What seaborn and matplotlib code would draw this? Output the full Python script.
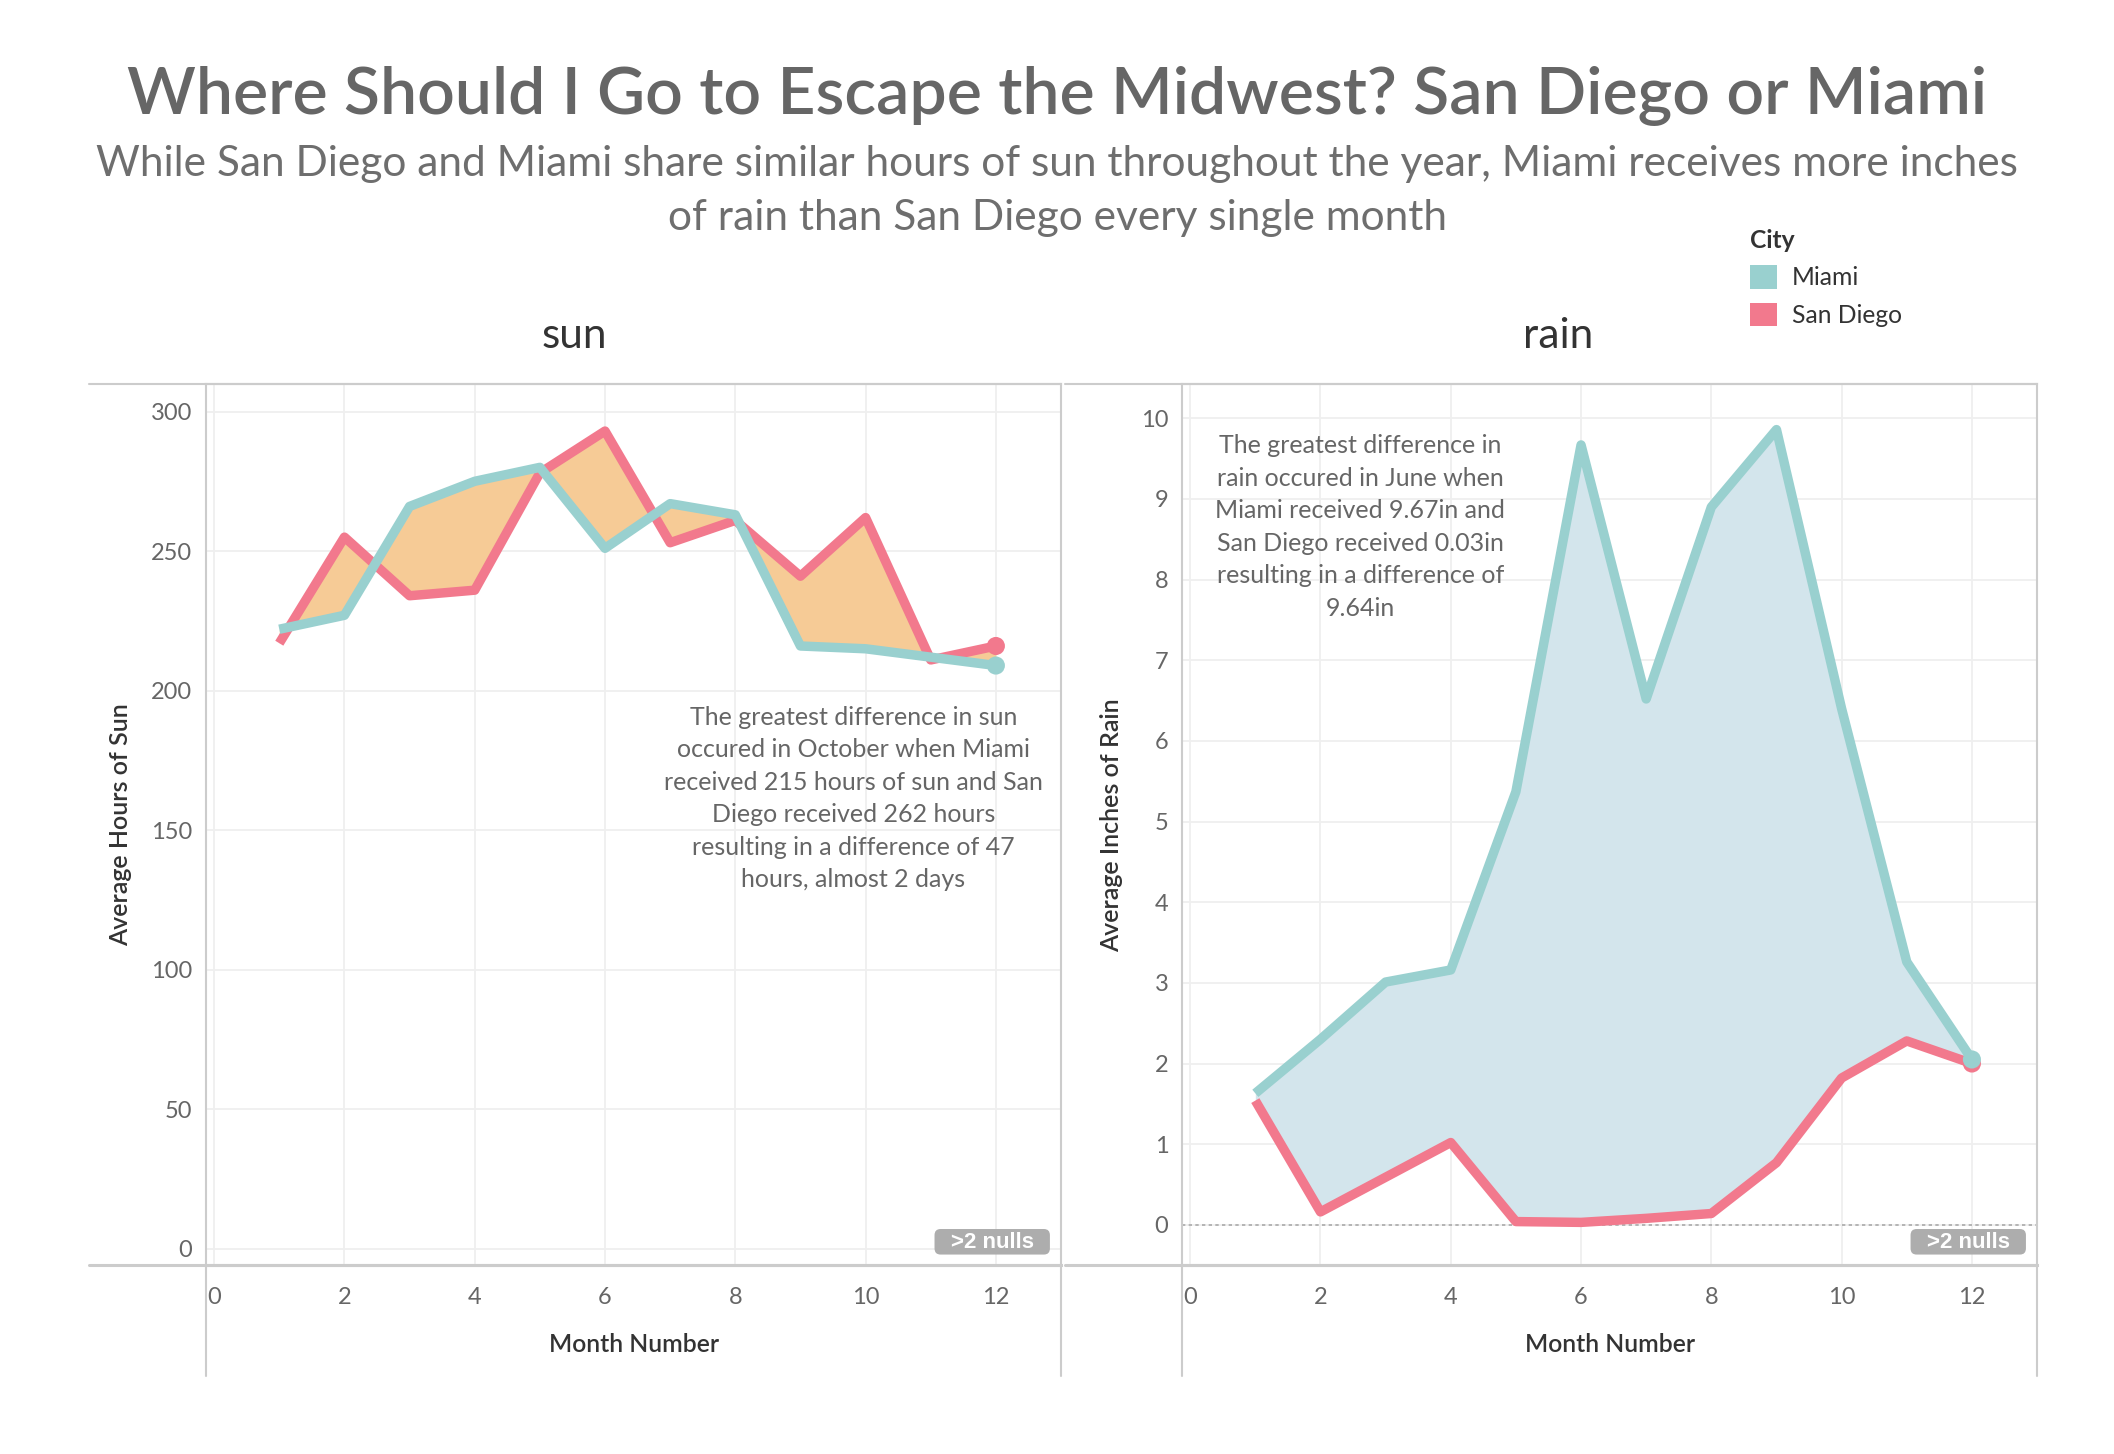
import pandas as pd
import seaborn as sns
import matplotlib.pyplot as plt
from matplotlib.patches import Patch, FancyBboxPatch

# monthly averages
months = [1, 2, 3, 4, 5, 6, 7, 8, 9, 10, 11, 12]
sun_miami = [222, 227, 266, 275, 280, 251, 267, 263, 216, 215, 212, 209]
sun_sandiego = [217, 255, 234, 236, 278, 293, 253, 261, 241, 262, 211, 216]
rain_miami = [1.63, 2.30, 3.01, 3.16, 5.37, 9.67, 6.52, 8.90, 9.86, 6.40, 3.26, 2.05]
rain_sandiego = [1.54, 0.16, 0.59, 1.02, 0.04, 0.03, 0.08, 0.14, 0.77, 1.82, 2.28, 2.00]

cities = ['Miami', 'San Diego']
x_ticks = [0, 2, 4, 6, 8, 10, 12]
sun_ticks = [0, 50, 100, 150, 200, 250, 300]
rain_ticks = [0, 1, 2, 3, 4, 5, 6, 7, 8, 9, 10]

teal = '#99D0CF'
pink = '#F2798D'
palette = {'Miami': teal, 'San Diego': pink}

sun_df = pd.DataFrame({'Month': months * 2,
                       'Value': sun_miami + sun_sandiego,
                       'City': ['Miami'] * 12 + ['San Diego'] * 12})
rain_df = pd.DataFrame({'Month': months * 2,
                        'Value': rain_miami + rain_sandiego,
                        'City': ['Miami'] * 12 + ['San Diego'] * 12})

sns.set_theme(style='white')
plt.rcParams['font.family'] = ['Lato', 'DejaVu Sans']

fig = plt.figure(figsize=(21.14, 14.54), dpi=100)
ax1 = fig.add_axes([0.0976, 0.1299, 0.4043, 0.6057])
ax2 = fig.add_axes([0.5593, 0.1299, 0.4043, 0.6057])

fig.text(0.5, 0.934, 'Where Should I Go to Escape the Midwest? San Diego or Miami',
         ha='center', va='center', fontsize=47.5, fontweight='semibold', color='#666666')
fig.text(0.5, 0.8869, 'While San Diego and Miami share similar hours of sun throughout the year, Miami receives more inches',
         ha='center', va='center', fontsize=30.5, color='#6e6e6e')
fig.text(0.5, 0.8498, 'of rain than San Diego every single month',
         ha='center', va='center', fontsize=30.5, color='#6e6e6e')

panels = [
    (ax1, sun_df, sun_miami, sun_sandiego, '#F6CB96', 'sun', 0.431, 'Average Hours of Sun',
     sun_ticks, (-5.8, 309.7), -0.1006),
    (ax2, rain_df, rain_miami, rain_sandiego, '#D3E5EC', 'rain', 0.44, 'Average Inches of Rain',
     rain_ticks, (-0.5, 10.42), -0.083),
]

for ax, df, mia, sd, fill, title, title_x, ylab, yt, ylim, ylab_x in panels:
    ax.fill_between(months, sd, mia, color=fill, lw=0, zorder=1)
    sns.lineplot(data=df, x='Month', y='Value', hue='City', hue_order=['San Diego', 'Miami'],
                 palette=palette, lw=6.8, legend=False, ax=ax, zorder=3,
                 solid_joinstyle='round', solid_capstyle='butt')
    last = df[df['Month'] == 12].iloc[::-1]
    sns.scatterplot(data=last, x='Month', y='Value', hue='City',
                    palette=palette, s=170, edgecolor='none', legend=False, ax=ax, zorder=4)

    ax.set_xlim(-0.12, 13.0)
    ax.set_ylim(*ylim)
    ax.set_xticks(x_ticks)
    ax.set_yticks(yt)
    ax.grid(True, color='#EFEFEF', lw=1.3)
    ax.set_axisbelow(True)
    ax.tick_params(axis='x', length=0, pad=16, labelsize=17, labelcolor='#666666')
    ax.tick_params(axis='y', length=0, pad=10, labelsize=17, labelcolor='#666666')
    for s in ax.spines.values():
        s.set_color('#CCCCCC')
        s.set_linewidth(1.5)
    ax.spines['bottom'].set_linewidth(2.2)

    # header / axis-area borders like the dashboard frame
    ax.plot([-0.137, 1], [1, 1], transform=ax.transAxes, color='#CCCCCC', lw=1.5, clip_on=False)
    ax.plot([-0.137, 1], [0, 0], transform=ax.transAxes, color='#CCCCCC', lw=2.2, clip_on=False)
    ax.plot([0, 0], [0, -0.126], transform=ax.transAxes, color='#CCCCCC', lw=1.5, clip_on=False)
    ax.plot([1, 1], [0, -0.126], transform=ax.transAxes, color='#CCCCCC', lw=1.5, clip_on=False)

    ax.set_xlabel('Month Number', fontsize=17.8, color='#333333', fontweight='semibold')
    ax.xaxis.set_label_coords(0.5, -0.09)
    ax.xaxis.label.set_va('center')
    ax.set_ylabel(ylab, fontsize=18, color='#333333', fontweight='semibold')
    ax.yaxis.set_label_coords(ylab_x, 0.5)
    ax.yaxis.label.set_va('center')

    ax.text(title_x, 1.055, title, transform=ax.transAxes, ha='center', va='center',
            fontsize=30.5, color='#333333')
    ax.add_patch(FancyBboxPatch((0.852, 0.012), 0.135, 0.029, transform=ax.transAxes,
                                boxstyle='round,pad=0,rounding_size=0.007',
                                fc='#ADADAD', ec='none', zorder=5, clip_on=False))
    ax.text(0.9195, 0.0262, '>2 nulls', transform=ax.transAxes, ha='center', va='center',
            fontsize=16, fontweight='bold', color='white', family='Liberation Sans', zorder=6)

ax2.axhline(0, color='#AAAAAA', lw=1.2, ls=(0, (2, 2)), zorder=2)

ax1.text(0.757, 0.530, 'The greatest difference in sun\noccured in October when Miami\nreceived 215 hours of sun and San\nDiego received 262 hours\nresulting in a difference of 47\nhours, almost 2 days',
         transform=ax1.transAxes, ha='center', va='center', fontsize=18,
         color='#666666', linespacing=1.5, zorder=5)
ax2.text(0.208, 0.838, 'The greatest difference in\nrain occured in June when\nMiami received 9.67in and\nSan Diego received 0.03in\nresulting in a difference of\n9.64in',
         transform=ax2.transAxes, ha='center', va='center', fontsize=18,
         color='#666666', linespacing=1.5, zorder=5)

handles = [Patch(facecolor=palette[c], edgecolor='none') for c in cities]
leg = fig.legend(handles, cities, title='City', loc='upper left',
                 bbox_to_anchor=(0.8175, 0.858), frameon=False, fontsize=17.7,
                 title_fontsize=17.7, handlelength=1.1, handleheight=1.1,
                 handletextpad=0.6, labelspacing=0.55, alignment='left')
leg.get_title().set_fontweight('bold')
leg.get_title().set_color('#333333')
for t in leg.get_texts():
    t.set_color('#333333')

fig.savefig('out.png', dpi=100, facecolor='white')
